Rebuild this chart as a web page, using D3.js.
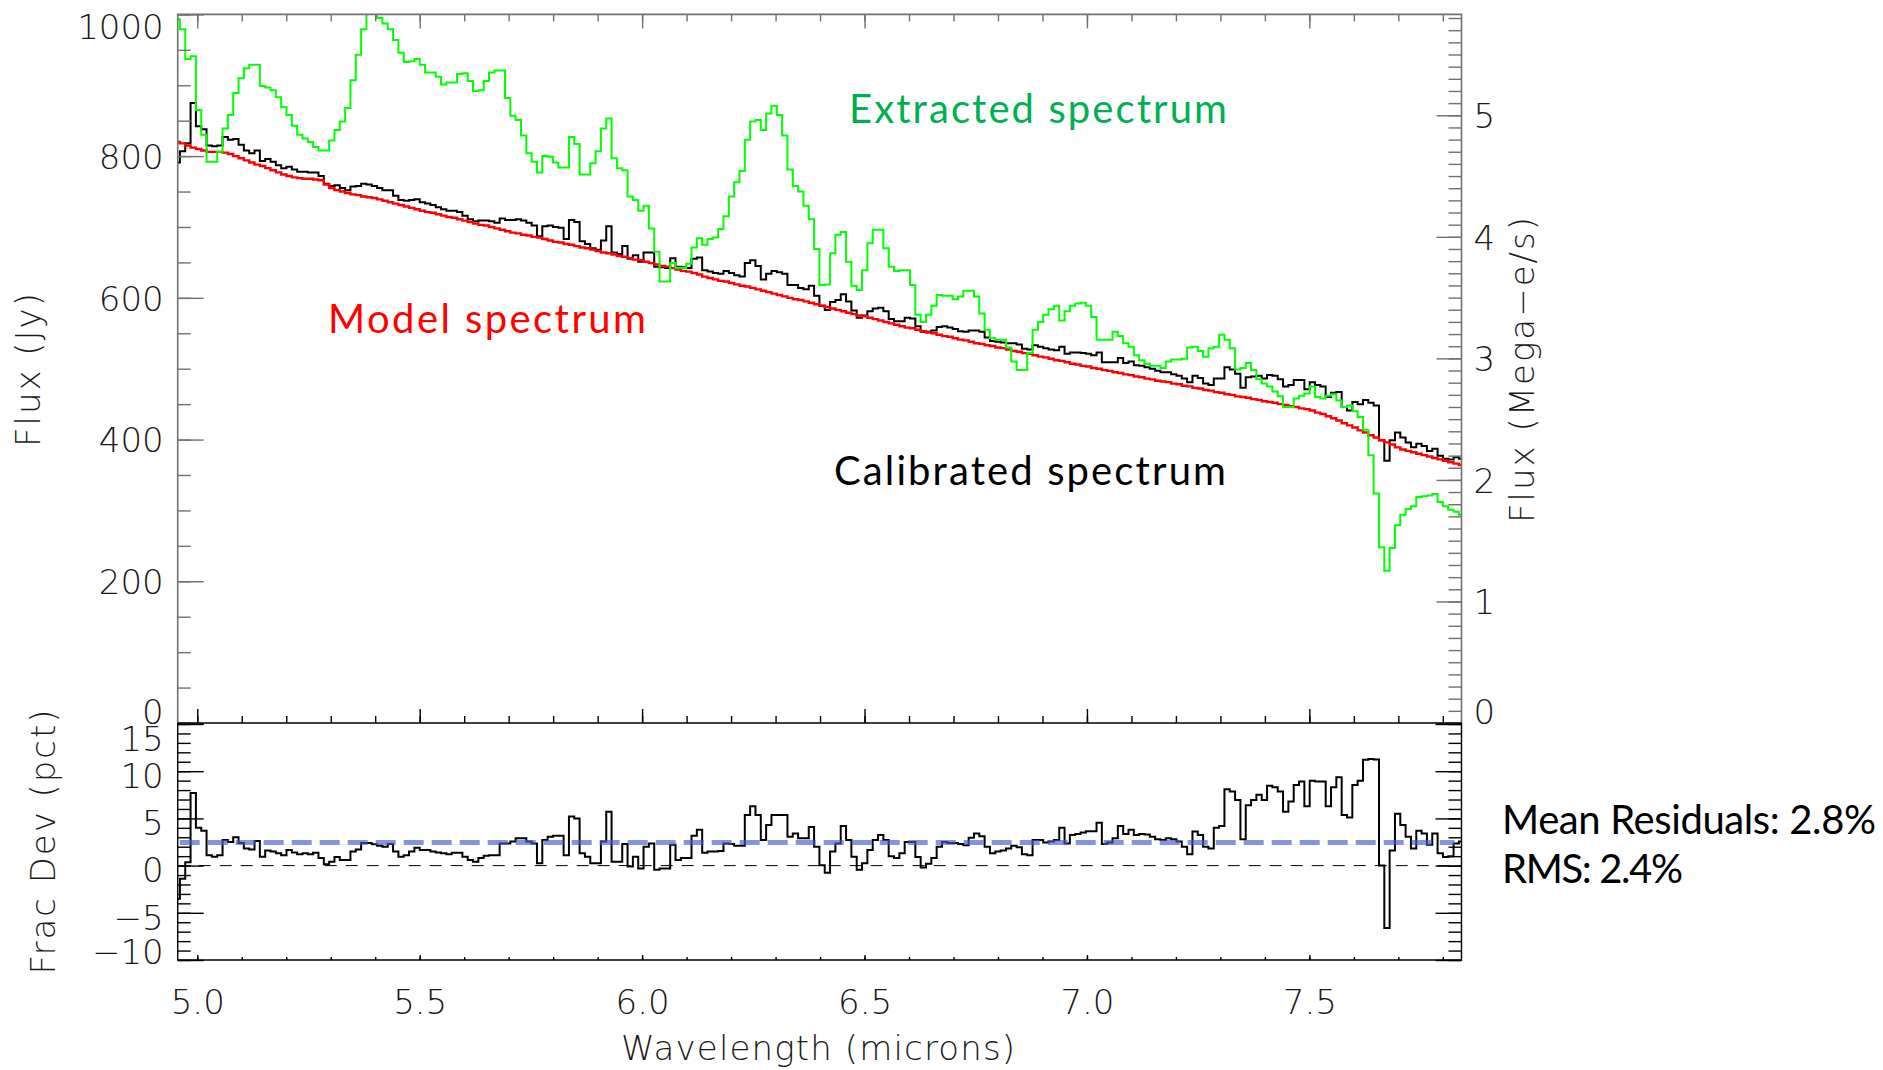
<!DOCTYPE html>
<html><head><meta charset="utf-8">
<script src="https://cdn.jsdelivr.net/npm/d3@7"></script>
<style>
html,body{margin:0;padding:0;background:#fff;}
svg{display:block;}
</style></head><body>
<svg id="chart" width="1883" height="1070"></svg>
<script>
// ---- data: spectral bins ----
const binStart = 4.949;      // left edge of first bin (microns)
const binWidth = 0.01198;    // bin width (microns)
const xDomain = [4.956, 7.842];

const modelFlux = [
820,818,815,812,810,808,806,806,806,805,
803,800,797,794,791,788,786,783,780,777,
774,772,770,769,768,768,767,766,760,755,
752,750,748,746,745,743,742,741,739,737,
735,733,731,729,727,725,723,721,720,718,
716,714,713,711,709,707,705,703,702,700,
698,696,694,692,691,689,688,686,685,683,
681,679,678,676,675,673,671,670,668,666,
664,663,661,659,658,656,654,653,651,649,
647,645,644,642,640,638,637,635,633,630,
628,626,624,623,621,619,617,616,614,612,
610,608,606,604,602,600,598,597,595,593,
591,589,587,585,583,581,579,577,575,574,
572,570,568,566,564,562,560,558,557,555,
553,551,550,548,546,545,543,541,540,538,
536,535,533,532,530,529,527,525,524,522,
521,519,517,516,514,512,511,509,507,506,
504,503,501,500,498,497,495,494,492,491,
489,488,486,485,483,482,481,479,478,476,
475,473,472,470,469,467,466,464,463,461,
460,459,457,456,454,453,452,450,449,447,
446,444,443,441,438,436,433,430,427,423,
420,417,413,410,406,403,399,396,393,389,
386,384,382,380,378,376,374,372,370,368,
366,364];

const calibratedFlux = [
791,807,818,875,842,838,815,814,815,827,
823,824,816,808,804,808,793,796,792,787,
783,785,781,778,778,777,777,772,761,758,
759,755,752,757,758,761,760,758,755,752,
752,744,738,737,738,739,735,733,731,728,
725,723,723,721,716,711,708,709,709,708,
706,712,710,710,711,709,706,702,687,701,
702,700,699,683,710,707,680,676,670,668,
681,701,664,662,673,655,660,651,664,664,
644,643,642,656,644,643,642,655,657,639,
637,635,634,638,635,632,630,649,653,645,
626,634,638,636,634,618,618,614,612,617,
603,589,583,594,597,605,595,582,572,575,
581,585,586,581,570,567,567,572,571,560,
552,552,554,559,560,558,556,553,552,554,
554,552,544,539,538,537,536,536,534,528,
527,533,531,529,527,526,531,521,523,523,
522,521,519,523,509,509,509,515,508,510,
505,504,502,500,497,495,495,492,490,486,
481,490,487,479,477,486,486,502,499,493,
473,488,489,490,486,491,490,485,475,477,
484,484,471,481,477,475,460,466,467,446,
441,453,450,456,452,448,399,370,399,410,
403,396,389,394,391,384,387,377,373,372,
375,373];

const extractedFlux = [
993,979,937,941,865,830,792,792,806,839,
858,889,910,924,929,929,899,897,893,883,
869,858,843,830,825,820,813,808,808,822,
837,849,868,907,943,979,1005,1005,995,987,
979,964,946,933,934,937,929,918,918,912,
901,904,904,916,917,906,892,893,906,918,
921,921,882,857,851,829,804,792,777,800,
799,791,784,784,827,817,774,774,790,807,
839,853,797,783,780,743,738,723,730,698,
665,623,623,649,642,642,648,671,684,675,
683,685,697,715,743,763,779,823,849,851,
837,860,871,858,829,781,758,750,730,711,
669,618,619,663,689,693,651,617,611,639,
677,696,696,670,644,638,639,639,618,576,
566,576,589,604,603,603,598,602,610,610,
602,578,555,543,541,541,530,510,498,498,
522,555,566,576,584,589,568,581,589,592,
593,589,573,541,541,541,552,546,536,531,
519,512,507,504,504,501,510,513,513,514,
530,531,525,517,529,531,548,541,529,499,
501,508,498,485,479,475,468,461,446,446,
458,462,465,475,460,458,462,464,455,446,
448,440,432,414,378,324,248,215,247,279,
294,302,306,319,320,321,323,312,306,301,
298,294];

const fracDev = [
-3.5,-1.4,0.35,7.7,4.0,3.7,1.1,0.95,1.1,2.7,
2.5,3.0,2.4,1.8,1.7,2.6,0.95,1.6,1.5,1.3,
1.1,1.65,1.4,1.2,1.3,1.2,1.35,0.8,0.15,0.4,
0.9,0.6,0.6,1.5,1.7,2.4,2.4,2.25,2.1,2.0,
2.3,1.5,0.95,1.1,1.5,1.9,1.65,1.65,1.5,1.4,
1.3,1.2,1.35,1.35,0.95,0.6,0.4,0.8,1.05,1.1,
1.1,2.35,2.35,2.55,2.9,2.9,2.55,2.35,0.25,2.7,
3.05,3.15,3.15,1.1,5.2,5.0,1.3,0.95,0.25,0.25,
2.55,5.7,0.4,0.4,2.3,-0.1,0.95,-0.3,2.0,2.35,
-0.45,-0.3,-0.3,2.2,0.6,0.8,0.8,3.15,3.8,1.35,
1.5,1.5,1.55,2.35,2.3,2.1,2.1,5.35,6.3,5.35,
2.7,4.3,5.35,5.35,5.35,3.05,3.4,2.9,2.9,4.1,
2.0,0.05,-0.75,1.5,2.35,4.2,2.7,0.95,-0.45,0.25,
1.65,2.7,3.25,2.7,1.0,0.8,1.3,2.5,2.5,0.9,
-0.2,0.2,0.8,2.0,2.5,2.4,2.4,2.3,2.15,2.95,
3.4,3.1,2.0,1.3,1.5,1.6,1.8,2.1,1.95,1.2,
1.1,2.7,2.7,2.45,2.55,2.7,4.0,2.35,3.25,3.35,
3.5,3.65,3.65,4.55,2.3,2.45,2.9,4.2,3.35,3.8,
3.25,3.35,3.3,3.05,2.8,2.7,2.9,2.8,2.55,2.0,
1.2,3.6,3.25,2.0,1.8,4.0,4.2,8.1,7.85,6.95,
2.8,6.4,6.95,7.5,6.95,8.45,8.3,7.85,5.7,6.8,
8.55,8.9,6.3,9.0,8.9,8.9,6.3,8.3,9.35,5.35,
5.1,8.55,9.0,11.2,11.3,11.25,0,-6.6,1.6,5.5,
4.3,3.05,1.8,3.7,3.4,2.2,3.4,1.3,0.9,1.0,
2.35,2.55];

const meanResidualLevel = 2.45;

// ---- ticks & labels ----
const xTickValues = [5.0, 5.5, 6.0, 6.5, 7.0, 7.5];
const fluxTickValues = [0, 200, 400, 600, 800, 1000];
const countTickValues = [0, 1, 2, 3, 4, 5];
const countMax = 5.83;
const devTickValues = [-10, -5, 0, 5, 10, 15];
const devDomain = [-10, 15];
const fluxDomain = [0, 1000];

const annotations = [
  {text: "Extracted spectrum", color: "#00B050"},
  {text: "Model spectrum", color: "#FF0000"},
  {text: "Calibrated spectrum", color: "#000000"},
  {text: "Mean Residuals: 2.8%", color: "#000000"},
  {text: "RMS: 2.4%", color: "#000000"}
];
const annotationPos = [
  {x: 849, y: 123, w: 378},
  {x: 328, y: 333, w: 318},
  {x: 834, y: 485, w: 392},
  {x: 1502, y: 834, w: 374},
  {x: 1502, y: 883, w: 181}
];

// ---- layout ----
const X0 = 177.7, X1 = 1461.5, YT = 14.4, YM = 723, YB = 960;
const AXIS_GRAY = "#707070";
const TICK_FONT = "'DejaVu Sans', sans-serif";

const svg = d3.select("#chart");
const x = d3.scaleLinear().domain(xDomain).range([X0, X1]);
const yFlux = d3.scaleLinear().domain(fluxDomain).range([YM, YT]);
const yCount = d3.scaleLinear().domain([0, countMax]).range([YM, YT]);
const yDev = d3.scaleLinear().domain(devDomain).range([YB, YM + 1]);

const defs = svg.append("defs");
defs.append("clipPath").attr("id", "clipTop").append("rect")
  .attr("x", X0).attr("y", YT).attr("width", X1 - X0).attr("height", YM - YT);
defs.append("clipPath").attr("id", "clipBot").append("rect")
  .attr("x", X0).attr("y", YM).attr("width", X1 - X0).attr("height", YB - YM);

function stepPoints(vals) {
  const pts = vals.map((v, k) => [binStart + k * binWidth, v]);
  pts.push([binStart + vals.length * binWidth, vals[vals.length - 1]]);
  return pts;
}
const lineTop = d3.line().x(d => x(d[0])).y(d => yFlux(d[1])).curve(d3.curveStepAfter);
const lineBot = d3.line().x(d => x(d[0])).y(d => yDev(d[1])).curve(d3.curveStepAfter);

// ---- top panel series ----
const gTop = svg.append("g").attr("clip-path", "url(#clipTop)");
gTop.append("path").attr("d", lineTop(stepPoints(calibratedFlux)))
  .attr("fill", "none").attr("stroke", "#000").attr("stroke-width", 2);
gTop.append("path").attr("d", lineTop(stepPoints(modelFlux)))
  .attr("fill", "none").attr("stroke", "#FF0000").attr("stroke-width", 2.4);
gTop.append("path").attr("d", lineTop(stepPoints(extractedFlux)))
  .attr("fill", "none").attr("stroke", "#00FF00").attr("stroke-width", 2);

// ---- bottom panel series ----
const gBot = svg.append("g").attr("clip-path", "url(#clipBot)");
gBot.append("line").attr("x1", X0).attr("x2", X1).attr("y1", yDev(0)).attr("y2", yDev(0))
  .attr("stroke", "#000").attr("stroke-width", 1).attr("stroke-dasharray", "12,9");
gBot.append("path").attr("d", lineBot(stepPoints(fracDev)))
  .attr("fill", "none").attr("stroke", "#000").attr("stroke-width", 2);
gBot.append("line").attr("x1", X0 + 2).attr("x2", X1 - 7)
  .attr("y1", yDev(meanResidualLevel)).attr("y2", yDev(meanResidualLevel))
  .attr("stroke", "rgb(70,90,200)").attr("stroke-opacity", 0.65)
  .attr("stroke-width", 5).attr("stroke-dasharray", "20,8");

// ---- axes ----
function styleAxis(g, color) {
  g.select(".domain").remove();
  g.selectAll(".tick line").attr("stroke", color).attr("stroke-width", 1.4);
  g.selectAll(".tick text")
    .attr("font-family", TICK_FONT).attr("font-weight", 200)
    .attr("font-size", 34).attr("fill", "#1a1a1a");
  return g;
}
const minorRange = (a, b, s) => d3.range(a, b + s / 2, s);

// top panel: left
styleAxis(svg.append("g").attr("transform", `translate(${X0},0)`)
  .call(d3.axisLeft(yFlux).tickValues(minorRange(0, 1000, 50)).tickSizeInner(-13).tickSizeOuter(0).tickFormat("")), AXIS_GRAY);
const gl = styleAxis(svg.append("g").attr("transform", `translate(${X0},0)`)
  .call(d3.axisLeft(yFlux).tickValues(fluxTickValues).tickSizeInner(-26).tickSizeOuter(0).tickPadding(14).tickFormat(d3.format("d"))), AXIS_GRAY);
gl.selectAll(".tick text").attr("dy", d => d === 1000 ? "0.7em" : (d === 0 ? "0.02em" : "0.36em"));

// top panel: right
styleAxis(svg.append("g").attr("transform", `translate(${X1},0)`)
  .call(d3.axisRight(yCount).tickValues(minorRange(0, 5.8, 0.1)).tickSizeInner(-13).tickSizeOuter(0).tickFormat("")), AXIS_GRAY);
const gr = styleAxis(svg.append("g").attr("transform", `translate(${X1},0)`)
  .call(d3.axisRight(yCount).tickValues(countTickValues).tickSizeInner(-25).tickSizeOuter(0).tickPadding(12).tickFormat(d3.format("d"))), AXIS_GRAY);
gr.selectAll(".tick text").attr("dy", d => d === 0 ? "0.02em" : "0.36em");

// top panel: top & bottom x ticks
const xMinor = minorRange(5.0, 7.8, 0.1);
styleAxis(svg.append("g").attr("transform", `translate(0,${YT})`)
  .call(d3.axisTop(x).tickValues(xMinor).tickSizeInner(-7).tickSizeOuter(0).tickFormat("")), AXIS_GRAY);
styleAxis(svg.append("g").attr("transform", `translate(0,${YT})`)
  .call(d3.axisTop(x).tickValues(xTickValues).tickSizeInner(-14).tickSizeOuter(0).tickFormat("")), AXIS_GRAY);
styleAxis(svg.append("g").attr("transform", `translate(0,${YM})`)
  .call(d3.axisBottom(x).tickValues(xMinor).tickSizeInner(-7).tickSizeOuter(0).tickFormat("")), "#000");
styleAxis(svg.append("g").attr("transform", `translate(0,${YM})`)
  .call(d3.axisBottom(x).tickValues(xTickValues).tickSizeInner(-14).tickSizeOuter(0).tickFormat("")), "#000");

// bottom panel: left & right
const devMinor = minorRange(-10, 15, 1);
styleAxis(svg.append("g").attr("transform", `translate(${X0},0)`)
  .call(d3.axisLeft(yDev).tickValues(devMinor).tickSizeInner(-13).tickSizeOuter(0).tickFormat("")), "#000");
const gdl = styleAxis(svg.append("g").attr("transform", `translate(${X0},0)`)
  .call(d3.axisLeft(yDev).tickValues(devTickValues).tickSizeInner(-26).tickSizeOuter(0).tickPadding(14).tickFormat(d3.format("d"))), "#000");
gdl.selectAll(".tick text").attr("dy", d => d === 15 ? "0.78em" : (d === -10 ? "0.1em" : "0.48em"));
styleAxis(svg.append("g").attr("transform", `translate(${X1},0)`)
  .call(d3.axisRight(yDev).tickValues(devMinor).tickSizeInner(-13).tickSizeOuter(0).tickFormat("")), "#000");
styleAxis(svg.append("g").attr("transform", `translate(${X1},0)`)
  .call(d3.axisRight(yDev).tickValues(devTickValues).tickSizeInner(-26).tickSizeOuter(0).tickFormat("")), "#000");

// bottom panel: bottom axis with labels
styleAxis(svg.append("g").attr("transform", `translate(0,${YB})`)
  .call(d3.axisBottom(x).tickValues(xMinor).tickSizeInner(-3).tickSizeOuter(0).tickFormat("")), "#000");
styleAxis(svg.append("g").attr("transform", `translate(0,${YB})`)
  .call(d3.axisBottom(x).tickValues(xTickValues).tickSizeInner(-5).tickSizeOuter(0).tickPadding(30).tickFormat(d3.format(".1f"))), "#000");

// frames
const frame = svg.append("g").attr("fill", "none");
frame.append("path").attr("d", `M${X0},${YM}V${YT}H${X1}V${YM}`).attr("stroke", AXIS_GRAY).attr("stroke-width", 1.6);
frame.append("path").attr("d", `M${X0},${YM}V${YB}H${X1}V${YM}`).attr("stroke", "#000").attr("stroke-width", 1.4);
frame.append("line").attr("x1", X0).attr("x2", X1).attr("y1", YM).attr("y2", YM).attr("stroke", "#000").attr("stroke-width", 1.6);

// axis titles
function title(txt, tx, ty, rot, len) {
  svg.append("text").attr("transform", `translate(${tx},${ty}) rotate(${rot})`)
    .attr("text-anchor", "middle").attr("font-family", TICK_FONT).attr("font-weight", 200)
    .attr("font-size", 34).attr("fill", "#1a1a1a")
    .attr("textLength", len).attr("lengthAdjust", "spacing").text(txt);
}
title("Flux (Jy)", 40, 370, -90, 154);
title("Frac Dev (pct)", 55, 842, -90, 265);
title("Flux (Mega\u2212e/s)", 1534, 370, -90, 306);
title("Wavelength (microns)", 818, 1060, 0, 394);

// annotations
annotations.forEach((a, i) => {
  const p = annotationPos[i];
  svg.append("text").attr("x", p.x).attr("y", p.y)
    .attr("font-family", "Lato, 'Open Sans', sans-serif").attr("font-size", 40)
    .attr("fill", a.color).attr("textLength", p.w).attr("lengthAdjust", "spacing")
    .text(a.text);
});
</script>
</body></html>
